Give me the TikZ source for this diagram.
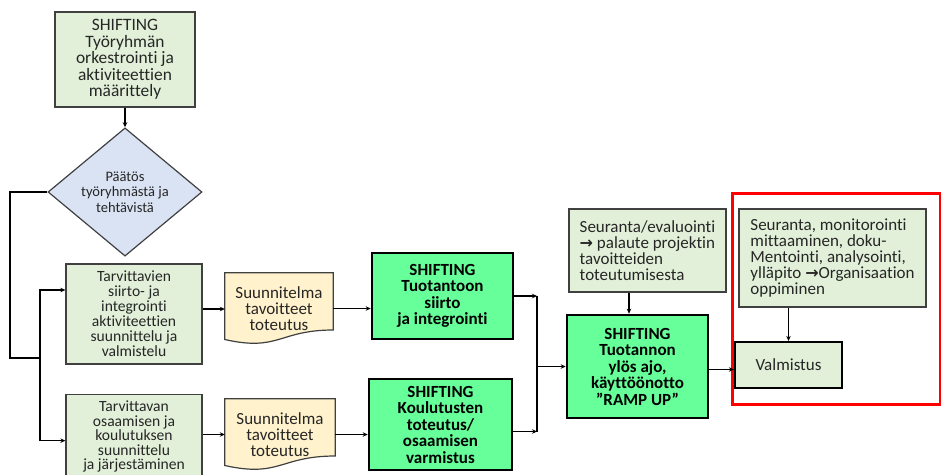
\documentclass[tikz,border=0pt]{standalone}
\usepackage{fontspec}
\setmainfont{Carlito}[Ligatures=NoCommon]
\newfontfamily\symfont{DejaVu Sans}
\usetikzlibrary{arrows.meta,shapes.geometric,backgrounds}

\definecolor{paleGreen}{HTML}{E2F0D9}
\definecolor{paleBlue}{HTML}{DAE3F3}
\definecolor{paleYellow}{HTML}{FFF2CC}
\definecolor{brightGreen}{HTML}{66FF99}
\definecolor{edgeGrey}{HTML}{404040}
\definecolor{inkGrey}{HTML}{262626}

\newcommand{\rarr}{{\symfont\bfseries\fontsize{16}{15}\selectfont →}}

\tikzset{
  basebox/.style={rectangle, align=center, text=inkGrey, inner sep=2pt},
  plainbox/.style={basebox, draw=edgeGrey, line width=1.3pt, fill=paleGreen,
    font=\fontsize{15.6}{15}\selectfont},
  notebox/.style={basebox, draw=edgeGrey, line width=1.3pt, fill=paleGreen,
    align=left, font=\fontsize{17}{16}\selectfont},
  stagebox/.style={basebox, draw=black, line width=2.6pt, fill=brightGreen,
    text=black, font=\bfseries\fontsize{17}{16.5}\selectfont},
  decision/.style={diamond, draw=edgeGrey, line width=1.2pt, fill=paleBlue,
    align=center, text=inkGrey, inner sep=0pt, font=\fontsize{14.5}{15.5}\selectfont},
  doctext/.style={basebox, font=\fontsize{17}{16}\selectfont},
  docshape/.style={draw=edgeGrey, line width=1.2pt, fill=paleYellow},
  link/.style={draw=black, line width=1.1pt},
  arr/.style={link, -{Stealth[length=5pt,width=4.5pt]}},
}

\begin{document}
\begin{tikzpicture}[x=1pt, y=-1pt]
\useasboundingbox (0,0) rectangle (941,474);
\clip (0,0) rectangle (941,474);

% task definition and decision
\node[plainbox, minimum width=140pt, minimum height=95pt,
      font=\fontsize{17.4}{16.5}\selectfont] (orch) at (125,59.5)
  {SHIFTING\\Työryhmän\\orkestrointi ja\\aktiviteettien\\määrittely};
\node[decision, minimum width=154pt, minimum height=90pt] (dec) at (125,192)
  {Päätös\\työryhmästä ja\\tehtävistä};

% planning boxes
\node[plainbox, minimum width=136pt, minimum height=100pt] (plan1) at (134,314)
  {Tarvittavien\\siirto- ja\\integrointi\\aktiviteettien\\suunnittelu ja\\valmistelu};
\node[plainbox, minimum width=136pt, minimum height=84pt, anchor=north,
      font=\fontsize{15.6}{14.6}\selectfont] (plan2) at (134,394)
  {Tarvittavan\\osaamisen ja\\koulutuksen\\suunnittelu\\ja järjestäminen};

% document shapes
\node[doctext, minimum width=108pt, minimum height=71pt] (doc1) at (279,308.5)
  {Suunnitelma\\tavoitteet\\toteutus};
\node[doctext, minimum width=110pt, minimum height=71pt] (doc2) at (280,434.5)
  {Suunnitelma\\tavoitteet\\toteutus};
\begin{scope}[on background layer]
  \foreach \d in {doc1,doc2}{
    \path[docshape] (\d.north west) -- (\d.north east)
      -- ([yshift=14.2pt]\d.south east)
      .. controls ([yshift=14.2pt]\d.south) and ([yshift=-7.6pt]\d.south)
      .. ([yshift=4.7pt]\d.south west) -- cycle;
  }
\end{scope}

% SHIFTING stages
\node[stagebox, minimum width=141pt, minimum height=86pt] (move) at (442.5,296)
  {SHIFTING\\Tuotantoon\\siirto\\ja integrointi};
\node[stagebox, minimum width=143pt, minimum height=91pt] (train) at (440.5,424.5)
  {SHIFTING\\Koulutusten\\toteutus/\\osaamisen\\varmistus};
\node[stagebox, minimum width=141pt, minimum height=103pt] (ramp) at (637.5,366.5)
  {SHIFTING\\Tuotannon\\ylös ajo,\\käyttöönotto\\”RAMP UP”};

% follow-up and manufacturing
\node[notebox, minimum width=157pt, minimum height=83pt] (eval) at (647.5,250.5)
  {Seuranta/evaluointi\\\rarr\ palaute projektin\\tavoitteiden\\toteutumisesta};
\draw[red, line width=3pt] (732,193) rectangle (940,404);
\node[notebox, minimum width=187pt, minimum height=98pt] (learn) at (832.5,258)
  {Seuranta, monitorointi\\mittaaminen, doku-\\Mentointi, analysointi,\\ylläpito \rarr Organisaation\\oppiminen};
\node[basebox, draw=black, line width=2.2pt, fill=paleGreen,
      minimum width=107pt, minimum height=46pt, font=\fontsize{17}{16}\selectfont]
  (make) at (788.5,365) {Valmistus};

% connectors
\draw[arr] (orch.south) -- (dec.north);
\draw[link] (dec.west) -- (10,192) -- (10,358) -- (40,358) coordinate (split);
\draw[arr] (split) |- ([yshift=24pt]plan1.west);
\draw[arr] (split) |- ([yshift=-4pt]plan2.west);
\draw[arr] ([yshift=5pt]plan1.east) -- ([yshift=5pt]plan1.east -| doc1.west);
\draw[arr] (plan2.east |- doc2.west) -- (doc2.west);
\draw[arr] (doc1.east) -- (doc1.east -| move.west);
\draw[arr] (doc2.east) -- (doc2.east -| train.west);
\draw[arr] (move.east) -- (537,296) coordinate (mtop);
\draw[arr] ([yshift=-7pt]train.east) -- (537,431.5) coordinate (mbot);
\draw[link] (mtop) -- (mbot);
\draw[arr] (mtop |- ramp.west) -- (ramp.west);
\draw[arr] ([xshift=-18.5pt]eval.south) -- ([xshift=-18.5pt]eval.south |- ramp.north);
\draw[arr] (make.north |- learn.south) -- (make.north);
\draw[arr] ([yshift=-3pt]ramp.east) -- ([yshift=-3pt]ramp.east -| make.west);
\end{tikzpicture}
\end{document}
